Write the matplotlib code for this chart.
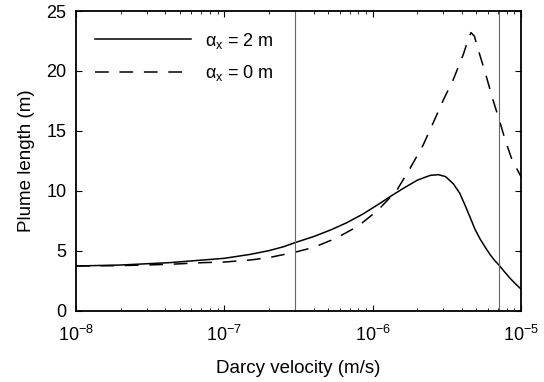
import numpy as np
import matplotlib
matplotlib.use("Agg")
import matplotlib.pyplot as plt
from matplotlib.ticker import LogLocator, NullFormatter

plt.rcParams["font.family"] = ["Liberation Sans", "DejaVu Sans"]
plt.rcParams["mathtext.fontset"] = "custom"
plt.rcParams["mathtext.rm"] = "Liberation Sans"
plt.rcParams["mathtext.it"] = "Liberation Sans"

# solid curve: alpha_x = 2 m
v_solid = [1e-8, 2e-8, 4.3e-8, 7.2e-8, 1e-7, 1.5e-7, 2e-7, 2.5e-7, 3e-7,
           4e-7, 5.2e-7, 6.7e-7, 8.6e-7, 1.12e-6, 1.31e-6, 1.6e-6, 2.0e-6,
           2.44e-6, 2.77e-6, 3.1e-6, 3.5e-6, 3.87e-6, 4.2e-6, 4.54e-6,
           4.9e-6, 5.3e-6, 5.75e-6, 6.19e-6, 6.6e-6, 7.1e-6, 7.7e-6,
           8.45e-6, 9.2e-6, 1e-5]
L_solid = [3.75, 3.83, 4.03, 4.25, 4.39, 4.72, 5.03, 5.35, 5.7,
           6.2, 6.75, 7.36, 8.08, 8.97, 9.53, 10.2, 10.9,
           11.3, 11.36, 11.2, 10.6, 9.8, 8.8, 7.8,
           6.8, 6.0, 5.3, 4.7, 4.25, 3.83, 3.3,
           2.72, 2.25, 1.83]

# dashed curve: alpha_x = 0 m
v_dash = [1e-8, 2e-8, 4.3e-8, 7.2e-8, 1e-7, 1.5e-7, 2e-7, 3e-7, 4e-7,
          5.64e-7, 8e-7, 1.09e-6, 1.45e-6, 1.79e-6, 2.18e-6, 2.5e-6, 3.0e-6,
          3.5e-6, 4.09e-6, 4.4e-6, 4.6e-6, 4.85e-6, 5.2e-6, 5.76e-6, 6.4e-6,
          7.1e-6, 7.9e-6, 8.7e-6, 1e-5]
L_dash = [3.75, 3.78, 3.89, 4.03, 4.08, 4.25, 4.45, 4.9, 5.3,
          6.05, 7.08, 8.42, 10.03, 11.9, 13.78, 15.4, 17.6,
          19.3, 21.4, 22.6, 23.2, 22.9, 21.6, 19.8, 17.8,
          16.0, 14.1, 12.6, 11.2]

vlines = [3e-7, 7.1e-6]

fig = plt.figure(figsize=(5.44, 3.82), dpi=100)
ax = fig.add_axes([0.1397, 0.1859, 0.8180, 0.7853])

ax.plot(v_solid, L_solid, "-", color="black", lw=1.1, label=r"$\alpha_{x}$ = 2 m")
ax.plot(v_dash, L_dash, "--", color="black", lw=1.1, dashes=(9, 7),
        label=r"$\alpha_{x}$ = 0 m")
for v in vlines:
    ax.axvline(v, color="#666666", lw=0.8)

ax.set_xscale("log")
ax.set_xlim(1e-8, 1e-5)
ax.set_ylim(0, 25)
ax.set_yticks([0, 5, 10, 15, 20, 25])
ax.xaxis.set_minor_locator(LogLocator(base=10, subs=np.arange(2, 10)))
ax.xaxis.set_minor_formatter(NullFormatter())

ax.tick_params(which="both", direction="in", top=True, right=True,
               labelsize=13)
ax.tick_params(which="major", length=4)
ax.tick_params(which="minor", length=2.5)
ax.tick_params(axis="x", pad=10)
ax.tick_params(axis="y", pad=7)
for s in ax.spines.values():
    s.set_linewidth(1.3)

ax.set_xlabel("Darcy velocity (m/s)", fontsize=13.5, labelpad=11)
ax.set_ylabel("Plume length (m)", fontsize=13.5, labelpad=8)

ax.legend(loc="upper left", frameon=False, fontsize=13, handlelength=5.3,
          handletextpad=0.75, borderaxespad=0.4, labelspacing=0.7,
          bbox_to_anchor=(0.011, 0.983))

fig.savefig("out.png", dpi=100)
